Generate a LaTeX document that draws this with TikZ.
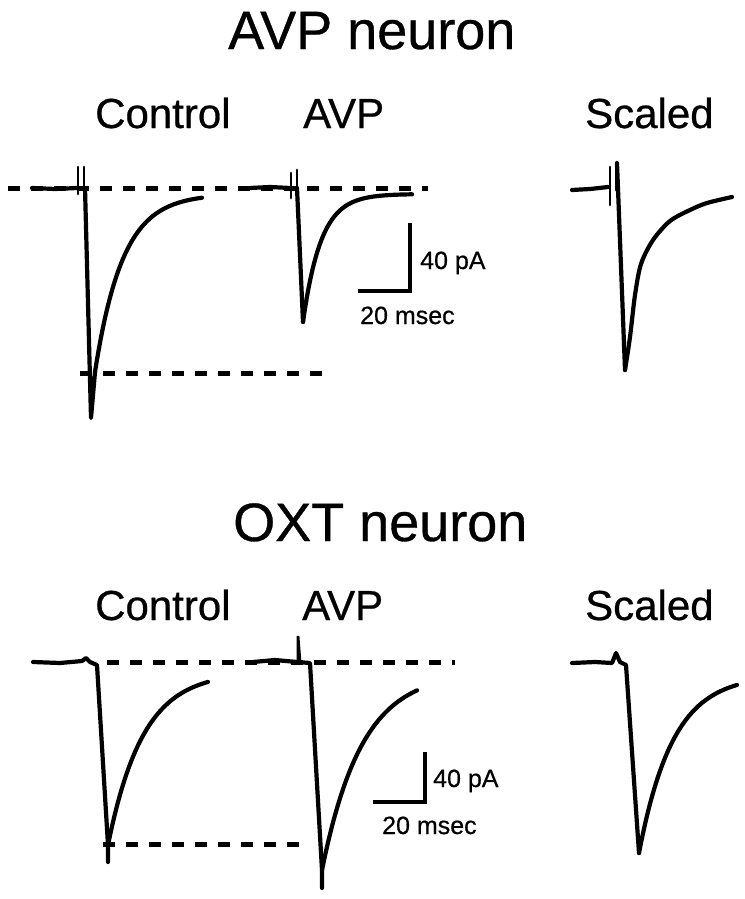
\documentclass[tikz,border=0pt]{standalone}
\usepackage{fontspec}
\setmainfont{Liberation Sans}[FakeBold=0.6]
\begin{document}
\begin{tikzpicture}[x=1pt,y=-1pt,
  trace/.style={line width=4.2pt,line cap=round,line join=round},
  thin trace/.style={line width=2.8pt,line cap=round},
  dline/.style={line width=5pt,dash pattern=on 12pt off 11pt},
  bar/.style={line width=3.8pt},
  title/.style={anchor=base west,inner sep=0pt,font=\fontsize{54}{60}\selectfont},
  lab/.style={anchor=base west,inner sep=0pt,font=\fontsize{42}{48}\selectfont},
  small/.style={anchor=base west,inner sep=0pt,font=\fontsize{25}{30}\selectfont}]
\useasboundingbox (0,0) rectangle (744,899);
\fill[white] (0,0) rectangle (744,899);

% ---------- AVP neuron ----------
\node[title] (t1) at (228,49) {AVP neuron};
\node[lab] (c1) at (95,128) {Control};
\node[lab] (a1) at (303,128) {AVP};
\node[lab] (s1) at (585,128) {Scaled};

\draw[dline] (8,188) -- (428,188);
\draw[dline] (80,373) -- (322,373);

% control
\draw[trace] (32,188) -- (55,189) -- (77,188);
\draw[thin trace] (78,194) -- (78,167);
\draw[thin trace] (84,167) -- (84,195);
\draw[trace] (85,188) -- (91,418) -- (95,372);
\draw[trace] plot[domain=95:202,samples=60] (\x,{194+178*exp(-(\x-95)/27.7)});

% AVP
\draw[trace] (250,188) -- (270,187) -- (290,188);
\draw[thin trace] (291,198) -- (291,173);
\draw[thin trace] (297,170) -- (297,190);
\draw[trace] (297,188) -- (303,322);
\draw[trace] plot[domain=303:412,samples=60] (\x,{194+128*exp(-(\x-303)/18)});

% scale bar
\draw[bar] (410,223) -- (410,291) -- (358,291);
\node[small] (y1) at (420,269) {40 pA};
\node[small] (x1) at (360,324) {20 msec};

% scaled
\draw[trace] (572,190) -- (590,189) -- (608,187);
\draw[thin trace] (610,167) -- (610,205);
\draw[thin trace] (616,163) -- (616,190);
\draw[trace] (617,163) -- (625,370);
\draw[trace] plot[smooth] coordinates {(625,370) (630,337) (635,295) (641,264) (653,240) (670,221) (690,210) (707,203) (732,197)};

% ---------- OXT neuron ----------
\node[title] (t2) at (233,541) {OXT neuron};
\node[lab] (c2) at (95,620) {Control};
\node[lab] (a2) at (302,620) {AVP};
\node[lab] (s2) at (585,620) {Scaled};

\draw[dline] (107,662) -- (455,662);
\draw[dline] (103,844) -- (305,844);

% control
\draw[trace] (33,662) -- (60,663) -- (82,661) -- (86,658) -- (90,662) -- (97,665) -- (108,845) -- (108,862);
\draw[trace] plot[domain=108:208,samples=60] (\x,{672+173*exp(-(\x-108)/35)});

% AVP
\draw[trace] (253,662) -- (275,660) -- (297,662);
\draw[thin trace] (298,662) -- (298,636) -- (300,662);
\draw[trace] (297,662) -- (310,663) -- (322,870) -- (322,888);
\draw[trace] plot[domain=322:417,samples=60] (\x,{672+198*exp(-(\x-322)/40)});

% scale bar
\draw[bar] (425,752) -- (425,802) -- (373,802);
\node[small] (y2) at (433,787) {40 pA};
\node[small] (x2) at (382,834) {20 msec};

% scaled
\draw[trace] (572,663) -- (595,662) -- (612,663) -- (616,653) -- (620,662) -- (626,665) -- (639,853);
\draw[trace] plot[domain=639:737,samples=60] (\x,{675+178*exp(-(\x-639)/34)});
\end{tikzpicture}
\end{document}
